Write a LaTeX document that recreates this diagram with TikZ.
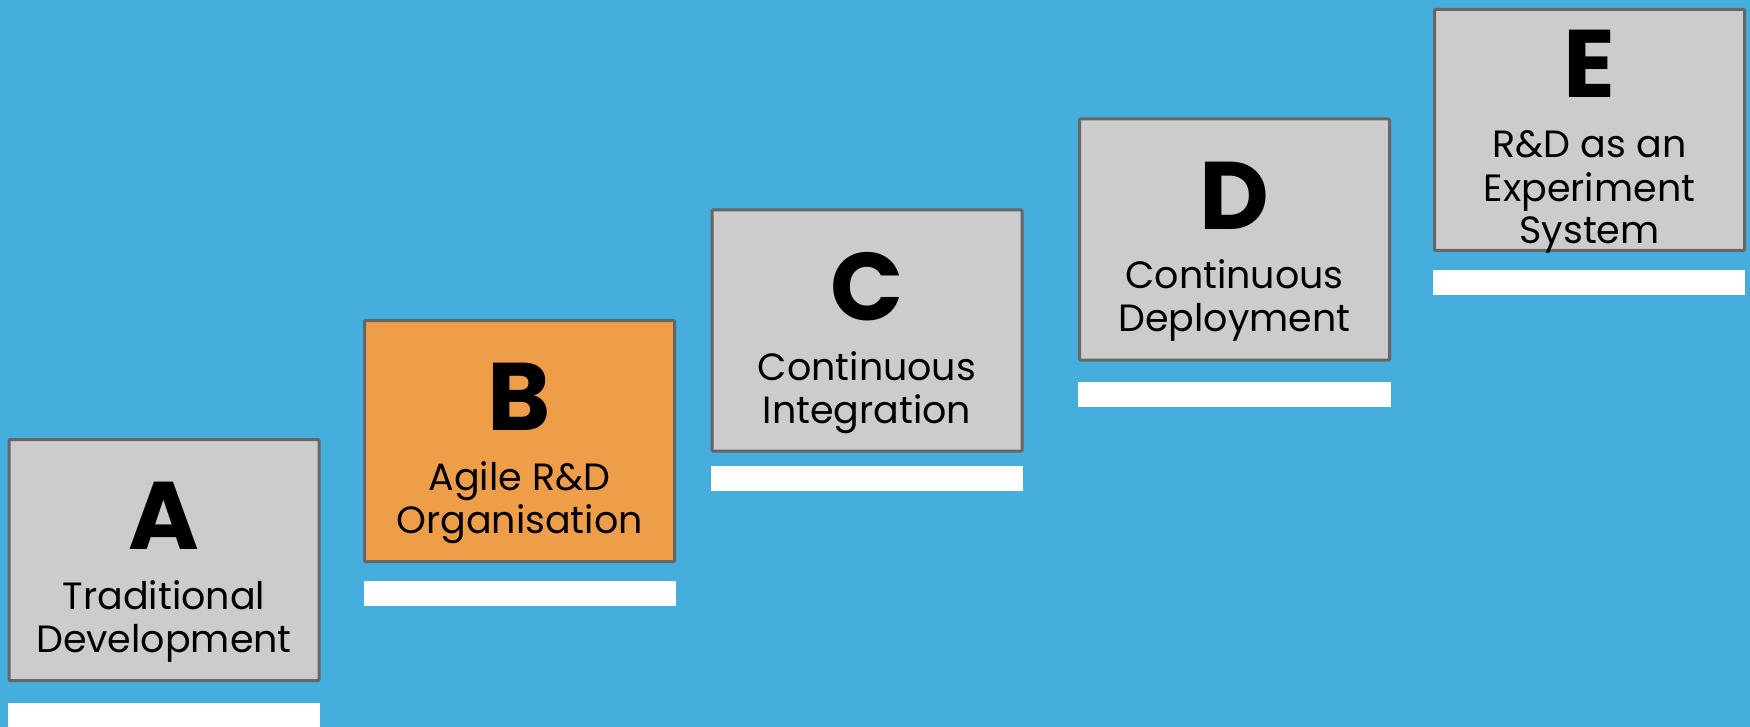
\documentclass[tikz,border=0pt]{standalone}
\usepackage{fontspec}
\setmainfont{Poppins}
\definecolor{skyback}{HTML}{45AEDC}
\definecolor{stepgray}{HTML}{CCCCCC}
\definecolor{steporange}{HTML}{EE9E48}
\definecolor{stepedge}{HTML}{666666}
\tikzset{
  stagebox/.style={draw=stepedge, line width=3pt, fill=stepgray, rounded corners=1pt,
    minimum width=310pt, minimum height=241pt, inner sep=0pt},
  stagebar/.style={fill=white, draw=none, inner sep=0pt, anchor=north west},
  stageletter/.style={font=\fontsize{96}{96}\selectfont\bfseries, anchor=base, inner sep=0pt},
  % base anchor of a multi-line caption sits on its last line
  stagecaption/.style={font=\fontsize{38}{43}\selectfont, align=center, anchor=base, inner sep=0pt}
}
\begin{document}
\begin{tikzpicture}[x=1pt, y=-1pt]
  % background
  \fill[skyback] (0,0) rectangle (1750,727);
  \useasboundingbox (0,0) rectangle (1750,727);

  % stage boxes
  \node[stagebox] (A) at (164,560) {};
  \node[stagebox, fill=steporange] (B) at (519.5,441) {};
  \node[stagebox] (C) at (867,330.5) {};
  \node[stagebox] (D) at (1234.5,239.5) {};
  \node[stagebox] (E) at (1589.5,130) {};

  % white steps under the boxes
  \node[stagebar, minimum width=312pt, minimum height=24pt] (barA) at (8,703) {};
  \node[stagebar, minimum width=312pt, minimum height=25pt] (barB) at (364,581) {};
  \node[stagebar, minimum width=312pt, minimum height=25pt] (barC) at (711,466) {};
  \node[stagebar, minimum width=313pt, minimum height=25pt] (barD) at (1078,382) {};
  \node[stagebar, minimum width=312pt, minimum height=25pt] (barE) at (1433,270) {};

  % letters
  \node[stageletter] (lA) at ([yshift=-111pt]A.north) {A};
  \node[stageletter] (lB) at ([yshift=-111pt]B.north) {B};
  \node[stageletter] (lC) at ([yshift=-112pt]C.north) {C};
  \node[stageletter] (lD) at ([yshift=-112pt]D.north) {D};
  \node[stageletter] (lE) at ([yshift=-90pt]E.north) {E};

  % captions
  \node[stagecaption] (tA) at ([yshift=-214pt]A.north) {Traditional\\Development};
  \node[stagecaption] (tB) at ([yshift=-214pt]B.north) {Agile R\&D\\Organisation};
  \node[stagecaption] (tC) at ([yshift=-215pt]C.north) {Continuous\\Integration};
  \node[stagecaption] (tD) at ([yshift=-214pt]D.north) {Continuous\\Deployment};
  \node[stagecaption] (tE) at ([yshift=-236pt]E.north) {R\&D as an\\Experiment\\System};
\end{tikzpicture}
\end{document}
